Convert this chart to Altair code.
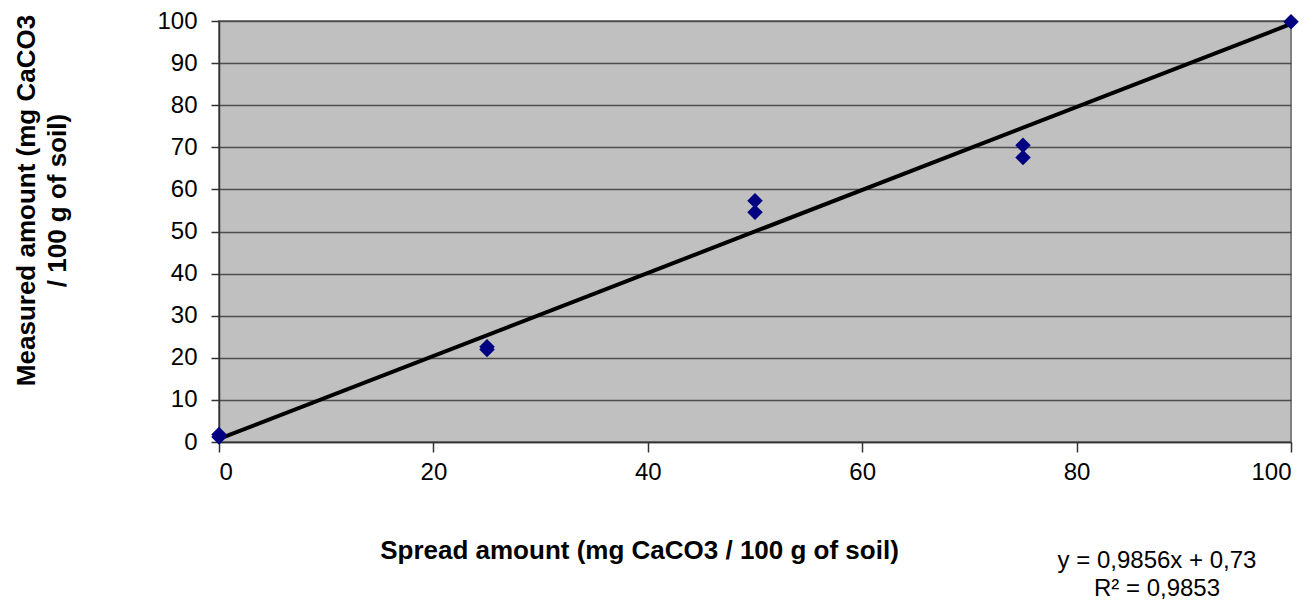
import altair as alt
import pandas as pd

# Measured points
spread = [0, 0, 25, 25, 50, 50, 75, 75, 100]
measured = [1.8, 1.2, 22.6, 22.0, 57.3, 54.6, 70.5, 67.6, 99.8]

# Linear trend line endpoints (y = 0.9856x + 0.73)
trend_x = [0, 100]
trend_y = [0.73, 99.29]

equation_lines = ["y = 0,9856x + 0,73", "R² = 0,9853"]

pts = pd.DataFrame({"spread": spread, "measured": measured})
trend = pd.DataFrame({"spread": trend_x, "measured": trend_y})
ann = pd.DataFrame({"label": ["\n".join(equation_lines)]})

FONT = "Liberation Sans"

x_enc = alt.X(
    "spread:Q",
    scale=alt.Scale(domain=[0, 100], nice=False),
    axis=alt.Axis(
        values=[0, 20, 40, 60, 80, 100],
        title="Spread amount (mg CaCO3 / 100 g of soil)",
        titleX=420,
        titleY=108,
        titleAlign="center",
        titleBaseline="middle",
        grid=False,
        tickSize=10,
        labelPadding=8,
    ),
)
y_enc = alt.Y(
    "measured:Q",
    scale=alt.Scale(domain=[0, 100], nice=False),
    axis=alt.Axis(
        values=list(range(0, 101, 10)),
        title=["Measured amount (mg CaCO3", "/ 100 g of soil)"],
        titleX=-206,
        titleY=179,
        titleAlign="center",
        titleBaseline="top",
        titleLineHeight=31,
        grid=True,
        tickSize=8,
        labelPadding=14,
    ),
)

line = alt.Chart(trend).mark_line(color="black", strokeWidth=4).encode(x=x_enc, y=y_enc)

points = alt.Chart(pts).mark_point(
    shape="diamond", filled=True, color="#000080", size=240, opacity=1
).encode(x="spread:Q", y="measured:Q")

eq = alt.Chart(ann).mark_text(
    font=FONT, fontSize=24, color="black", align="center", baseline="alphabetic",
    lineBreak="\n", lineHeight=28,
).encode(x=alt.value(938), y=alt.value(547), text="label:N")

chart = (
    alt.layer(line, points, eq)
    .properties(
        width=1072,
        height=421,
        autosize=alt.AutoSizeParams(type="none"),
        padding={"left": 211, "top": 13, "right": 10, "bottom": 158},
    )
    .configure_view(fill="#C0C0C0", stroke="#808080", strokeWidth=2)
    .configure_axis(
        labelFont=FONT,
        labelFontSize=24,
        labelColor="black",
        titleFont=FONT,
        titleFontSize=26,
        titleFontWeight="bold",
        titleColor="black",
        domainColor="#333333",
        domainWidth=1.5,
        tickColor="#333333",
        tickWidth=1.5,
        gridColor="#4d4d4d",
        gridWidth=1.5,
    )
)

chart.save("out.html", embed_options={"renderer": "svg", "actions": False})
